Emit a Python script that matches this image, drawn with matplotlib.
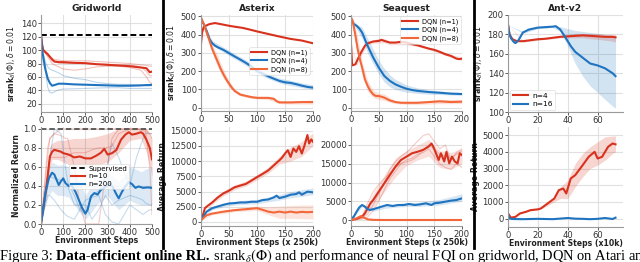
import matplotlib
matplotlib.use('Agg')
import matplotlib.pyplot as plt
from matplotlib.lines import Line2D

RED = '#d8321e'
BLUE = '#1f74c0'
ORANGE = '#f3683a'
GRID = '#e0e0e0'

# ---------------- Gridworld srank ----------------
gw_top_x = [0, 5, 10, 20, 30, 40, 50, 60, 80, 100, 150, 200, 250, 300, 350, 400, 450, 475, 490, 500]
gw_top_red = [122, 108, 100, 97, 94, 90, 86, 83, 82, 82, 81, 80.5, 79, 78, 77, 76, 74, 73, 67, 68]
gw_top_blue = [122, 100, 90, 71, 58, 51, 47, 48, 50, 50, 49, 48.5, 48, 47.5, 47, 47, 47.5, 48, 48, 48.5]
gw_top_red_s1 = [122, 110, 100, 97, 94, 90, 88, 86, 85, 84, 84, 84, 83, 82, 81, 80, 78, 77, 76, 76]
gw_top_red_s2 = [122, 110, 102, 95, 90, 85, 80, 78, 75, 72, 70, 72, 75, 76, 76, 74, 70, 60, 52, 50]
gw_top_red_s3 = [122, 108, 98, 95, 92, 88, 85, 82, 81, 80, 80, 80, 79, 79, 78, 78, 75, 68, 62, 62]
gw_top_blue_s1 = [122, 105, 95, 82, 75, 72, 70, 69, 66, 62, 58, 56, 52, 50, 49, 49, 48, 47, 47, 47]
gw_top_blue_s2 = [122, 95, 80, 70, 45, 37, 36, 38, 41, 42, 42.5, 43, 43.5, 44, 44, 43, 43, 43, 43, 43]
gw_supervised_rank = 123

# ---------------- Gridworld return ----------------
gw_bot_red_x = [0, 25, 40, 50, 60, 75, 90, 100, 125, 150, 175, 200, 225, 250, 270, 285, 300, 320, 340,
                360, 380, 395, 410, 430, 450, 460, 475, 490, 500]
gw_bot_red = [0, 0.40, 0.71, 0.76, 0.78, 0.77, 0.76, 0.745, 0.73, 0.70, 0.71, 0.69, 0.69, 0.72, 0.75,
              0.79, 0.73, 0.745, 0.78, 0.885, 0.94, 0.965, 0.94, 0.95, 0.965, 0.95, 0.885, 0.80, 0.68]
gw_bot_blue_x = [0, 20, 35, 50, 60, 70, 80, 90, 100, 110, 125, 140, 155, 170, 185, 200, 210, 225, 240,
                 255, 270, 285, 300, 310, 325, 340, 350, 365, 380, 395, 410, 425, 440, 460, 480, 500]
gw_bot_blue = [0, 0.33, 0.48, 0.54, 0.52, 0.465, 0.41, 0.45, 0.48, 0.43, 0.40, 0.40, 0.34, 0.255, 0.17,
               0.11, 0.15, 0.29, 0.325, 0.31, 0.36, 0.38, 0.41, 0.43, 0.38, 0.31, 0.27, 0.34, 0.395,
               0.44, 0.42, 0.38, 0.395, 0.38, 0.385, 0.38]
gw_bot_red_band_x = [0, 25, 40, 50, 75, 100, 150, 200, 250, 300, 350, 400, 450, 475, 500]
gw_bot_red_lo = [0, 0.30, 0.60, 0.68, 0.68, 0.65, 0.60, 0.60, 0.62, 0.65, 0.75, 0.88, 0.90, 0.75, 0.50]
gw_bot_red_hi = [0, 0.50, 0.82, 0.85, 0.88, 0.88, 0.90, 0.90, 0.92, 0.95, 1.0, 1.0, 1.0, 1.0, 0.90]
gw_bot_blue_band_x = [0, 20, 35, 50, 75, 100, 125, 150, 175, 200, 225, 250, 275, 300, 325, 350, 375,
                      400, 425, 450, 475, 500]
gw_bot_blue_lo = [0, 0.20, 0.30, 0.35, 0.30, 0.30, 0.28, 0.20, 0.12, 0.05, 0.12, 0.20, 0.25, 0.30, 0.22,
                  0.15, 0.20, 0.25, 0.22, 0.20, 0.20, 0.20]
gw_bot_blue_hi = [0, 0.45, 0.60, 0.65, 0.62, 0.62, 0.60, 0.55, 0.45, 0.30, 0.40, 0.45, 0.48, 0.55, 0.50,
                  0.45, 0.50, 0.60, 0.58, 0.55, 0.58, 0.60]
gw_seed_x = [0, 30, 40, 60, 90, 110, 120, 150, 175, 200, 230, 260, 290, 320, 350, 400, 430, 460, 470, 490, 500]
gw_bot_red_s1 = [0, 0.8, 0.9, 0.95, 1.0, 1.0, 1.0, 1.0, 1.0, 1.0, 1.0, 1.0, 1.0, 1.0, 1.0, 1.0, 1.0, 1.0, 1.0, 0.6, 0.1]
gw_bot_red_s2 = [0, 0.7, 0.9, 0.95, 0.93, 0.9, 0.9, 0.6, 0.2, 0.0, 0.0, 0.0, 0.5, 0.9, 1.0, 1.0, 1.0, 1.0, 1.0, 0.95, 0.9]
gw_bot_red_s3 = [0, 0.55, 0.7, 0.7, 0.7, 0.7, 0.72, 0.75, 0.75, 0.75, 0.78, 0.8, 0.8, 0.82, 0.95, 1.0, 1.0, 0.98, 0.97, 0.95, 0.95]
gw_bot_blue_s1 = [0, 0.5, 0.7, 1.0, 0.95, 0.6, 0.45, 0.3, 0.15, 0.1, 0.3, 0.35, 0.5, 0.85, 0.7, 0.4, 0.7, 0.9, 0.95, 0.95, 0.95]
gw_bot_blue_s2 = [0, 0.3, 0.3, 0.25, 0.15, 0.1, 0.08, 0.05, 0.15, 0.25, 0.28, 0.3, 0.1, 0.02, 0.0, 0.2, 0.15, 0.1, 0.12, 0.15, 0.15]
gw_bot_blue_s3 = [0, 0.4, 0.5, 0.48, 0.46, 0.45, 0.4, 0.2, 0.2, 0.2, 0.05, 0.15, 0.3, 0.2, 0.25, 0.3, 0.28, 0.25, 0.22, 0.2, 0.2]
gw_supervised_ret = 1.0

# ---------------- Asterix srank ----------------
ax_top_red_x = [0, 2, 5, 15, 25, 35, 50, 60, 75, 90, 100, 120, 140, 160, 180, 200]
ax_top_red = [350, 413, 444, 458, 464, 458, 449, 444, 437, 426, 418, 404, 390, 377, 368, 353]
ax_top_blue_x = [0, 5, 10, 15, 20, 25, 30, 40, 50, 60, 70, 80, 90, 100, 110, 120, 130, 140, 150, 160, 170, 180, 190, 200]
ax_top_blue = [482, 458, 422, 377, 353, 340, 331, 317, 299, 281, 264, 246, 226, 201, 187, 172, 159, 147, 139, 136, 129, 121, 114, 110]
ax_top_orange_x = [0, 5, 10, 15, 20, 25, 30, 35, 40, 45, 50, 55, 60, 65, 70, 80, 90, 100, 110, 120, 130, 135, 140, 160, 180, 200]
ax_top_orange = [495, 458, 413, 368, 322, 286, 250, 214, 183, 156, 132, 110, 92, 82, 72, 65, 58, 54, 54, 54, 49, 36, 29, 29, 31, 31]
ax_top_band_x = [0, 20, 40, 60, 80, 100, 120, 140, 160, 180, 200]
ax_top_blue_lo = [478, 342, 305, 268, 232, 188, 160, 135, 122, 110, 100]
ax_top_blue_hi = [486, 368, 332, 296, 262, 216, 186, 162, 150, 136, 126]
ax_top_orange_band_x = [0, 10, 20, 30, 40, 50, 60, 70, 80, 100, 120, 140, 160, 180, 200]
ax_top_orange_lo = [490, 400, 300, 220, 160, 115, 85, 65, 58, 48, 45, 22, 20, 20, 20]
ax_top_orange_hi = [497, 430, 345, 285, 210, 150, 105, 82, 72, 62, 60, 40, 38, 40, 42]

# ---------------- Asterix return ----------------
ax_bot_red_x = [0, 3, 7, 12, 20, 30, 40, 50, 60, 70, 80, 90, 100, 110, 120, 130, 140, 145, 150, 155, 160,
                165, 170, 175, 180, 185, 190, 193, 197, 200]
ax_bot_red = [330, 1000, 2270, 2660, 3210, 4040, 4700, 5150, 5700, 5980, 6250, 6800, 7360, 7900, 8470,
              9300, 10130, 10600, 11240, 11790, 10680, 12070, 11510, 12450, 11240, 12620, 14280, 12900, 13560, 13170]
ax_bot_blue_x = [0, 5, 10, 20, 30, 40, 50, 60, 70, 80, 90, 100, 110, 120, 130, 135, 140, 150, 160, 170, 175, 180, 190, 200]
ax_bot_blue = [280, 1000, 1700, 2270, 2550, 2820, 3040, 3100, 3210, 3210, 3320, 3320, 3600, 3700, 4040,
               4320, 3930, 4150, 4480, 4590, 4870, 4480, 4980, 4870]
ax_bot_orange_x = [0, 5, 10, 20, 40, 60, 80, 100, 110, 120, 130, 140, 150, 160, 170, 180, 190, 200]
ax_bot_orange = [280, 720, 1100, 1380, 1700, 1940, 2100, 2270, 2000, 1700, 1550, 1700, 1550, 1700, 1550, 1660, 1600, 1660]
ax_bot_band_x = [0, 20, 40, 60, 80, 100, 120, 140, 160, 180, 200]
ax_bot_red_lo = [300, 2900, 4300, 5300, 5900, 6900, 8000, 9500, 10000, 10800, 12500]
ax_bot_red_hi = [400, 3500, 5100, 6100, 6700, 7800, 9000, 10800, 12300, 13200, 14600]
ax_bot_blue_lo = [250, 2000, 2500, 2800, 2900, 3000, 3300, 3600, 4000, 4200, 4500]
ax_bot_blue_hi = [320, 2500, 3100, 3400, 3600, 3700, 4100, 4500, 5000, 5300, 5600]
ax_bot_orange_lo = [250, 1200, 1400, 1700, 1800, 1900, 1200, 600, 600, 550, 500]
ax_bot_orange_hi = [320, 1500, 1900, 2200, 2400, 2600, 2500, 2600, 2700, 2800, 2800]

# ---------------- Seaquest srank ----------------
sq_top_red_x = [0, 2, 8, 12, 18, 25, 30, 40, 50, 55, 60, 70, 80, 90, 100, 110, 120, 130, 140, 150, 160,
                170, 180, 190, 195, 200]
sq_top_red = [348, 232, 238, 265, 302, 339, 353, 363, 366, 372, 366, 357, 357, 361, 357, 348, 342, 333,
              324, 317, 306, 293, 284, 269, 266, 269]
sq_top_blue_x = [0, 5, 10, 15, 20, 25, 30, 40, 50, 60, 70, 80, 90, 100, 110, 120, 140, 160, 180, 200]
sq_top_blue = [485, 458, 449, 434, 412, 375, 339, 275, 220, 174, 147, 128, 115, 104, 97, 92, 86, 82, 77, 75]
sq_top_orange_x = [0, 3, 8, 12, 16, 20, 25, 30, 35, 40, 45, 50, 55, 60, 70, 80, 90, 100, 120, 140, 160, 180, 200]
sq_top_orange = [495, 476, 394, 321, 266, 220, 156, 119, 92, 73, 64, 64, 60, 55, 40, 31, 27, 27, 27, 31, 35, 31, 33]
sq_top_band_x = [0, 10, 20, 30, 40, 50, 60, 70, 80, 100, 120, 140, 160, 180, 200]
sq_top_blue_lo = [480, 430, 380, 300, 240, 185, 140, 115, 100, 85, 78, 74, 72, 70, 68]
sq_top_blue_hi = [490, 460, 440, 380, 320, 260, 215, 180, 155, 125, 108, 98, 92, 86, 84]
sq_top_orange_lo = [490, 370, 190, 90, 55, 45, 40, 30, 22, 18, 18, 20, 22, 22, 22]
sq_top_orange_hi = [497, 420, 250, 150, 95, 80, 75, 55, 40, 35, 35, 40, 45, 45, 45]
sq_top_red_lo = [340, 228, 295, 345, 352, 355, 355, 345, 345, 345, 335, 318, 298, 275, 260]
sq_top_red_hi = [352, 245, 315, 362, 370, 380, 380, 365, 362, 362, 350, 332, 315, 292, 278]

# ---------------- Seaquest return ----------------
sq_bot_red_x = [0, 10, 15, 20, 25, 30, 35, 40, 50, 60, 70, 80, 90, 100, 110, 120, 130, 140, 145, 148,
                152, 158, 162, 168, 172, 177, 182, 187, 192, 196, 200]
sq_bot_red = [0, 270, 620, 890, 1780, 3100, 4450, 5330, 7560, 9780, 12000, 14200, 16000, 16900, 17800,
              18200, 18700, 19600, 20400, 19600, 18200, 16000, 17800, 15600, 18200, 15100, 16900, 15600,
              15100, 17800, 17300]
sq_bot_blue_x = [0, 5, 10, 15, 20, 25, 30, 35, 45, 55, 65, 75, 85, 95, 105, 115, 125, 135, 145, 150,
                 160, 170, 180, 190, 200]
sq_bot_blue = [180, 890, 2200, 3380, 4000, 3560, 2840, 2670, 3100, 3560, 4000, 3730, 4000, 4000, 4270,
               4000, 4180, 4450, 4000, 4450, 4620, 4890, 5160, 5330, 5780]
sq_bot_orange_x = [0, 10, 18, 22, 30, 40, 60, 100, 150, 200]
sq_bot_orange = [0, 440, 1070, 710, 180, 30, 0, 0, 0, 0]
sq_bot_band_x = [0, 20, 40, 60, 80, 100, 120, 140, 160, 180, 200]
sq_bot_red_lo = [0, 400, 3500, 7500, 11500, 14500, 16000, 17000, 14000, 13500, 15000]
sq_bot_red_hi = [0, 1500, 7000, 12000, 16500, 18500, 20000, 21500, 18500, 18000, 19000]
sq_bot_blue_lo = [0, 3500, 2300, 3100, 3400, 3600, 3600, 3800, 4000, 4500, 5000]
sq_bot_blue_hi = [300, 4300, 3200, 4000, 4300, 4600, 4700, 5100, 5500, 6200, 7000]
sq_seed_x = [0, 20, 30, 40, 50, 60, 70, 80, 90, 100, 110, 120, 130, 140, 150, 160, 170, 180, 190, 200]
sq_bot_red_s1 = [0, 500, 1500, 4000, 7000, 10000, 13500, 15500, 17000, 18000, 19500, 21000, 22500, 23000,
                 21000, 19000, 20000, 16000, 18000, 19000]
sq_bot_red_s2 = [0, 1000, 4500, 7500, 9500, 11000, 12500, 14000, 15000, 16000, 16500, 17500, 18000, 19000,
                 17000, 15000, 14000, 13500, 15000, 14000]
sq_bot_red_s3 = [0, 200, 800, 2500, 5000, 8000, 11000, 13000, 15000, 15500, 16000, 17000, 18500, 20000,
                 19000, 17500, 17000, 16500, 17500, 18500]

# ---------------- Ant-v2 srank ----------------
ant_top_red_x = [0, 1, 3, 6, 10, 15, 20, 25, 30, 35, 40, 45, 50, 55, 60, 65, 70, 72]
ant_top_red = [190, 180, 175, 173, 173, 174, 175, 175.5, 176.5, 177.5, 178, 178.5, 179, 178.5, 178, 177.5, 177.5, 177]
ant_top_blue_x = [0, 1, 2, 4, 5, 7, 10, 14, 20, 25, 30, 32, 35, 38, 42, 45, 50, 55, 60, 65, 70, 72]
ant_top_blue = [190, 180, 176, 172, 171, 174, 182, 185, 187, 187.5, 188, 188.5, 185, 178, 168, 162, 156,
                150, 148, 145, 140, 137]
ant_top_band_x = [0, 10, 20, 30, 35, 40, 45, 50, 55, 60, 65, 70, 72]
ant_top_blue_lo = [190, 181, 186, 187, 183, 168, 150, 137, 127, 120, 113, 106, 104]
ant_top_blue_hi = [190, 183, 188, 189, 188, 186, 184, 183, 182, 181, 180, 179, 178]
ant_top_red_lo = [190, 172, 174, 175.5, 176.5, 176.5, 176.5, 176.5, 175.5, 175, 174, 173, 172]
ant_top_red_hi = [190, 174, 176, 178, 179, 180, 181, 181, 181, 181, 180, 180, 180]

# ---------------- Ant-v2 return ----------------
ant_bot_red_x = [0, 2, 5, 8, 12, 15, 20, 22, 25, 28, 31, 34, 37, 39, 42, 45, 50, 54, 58, 60, 63, 67, 70, 72]
ant_bot_red = [300, 50, 100, 300, 400, 500, 550, 600, 800, 1000, 1200, 1700, 1800, 1500, 2400, 2600,
               3200, 3700, 4000, 3600, 3700, 4300, 4500, 4450]
ant_bot_blue_x = [0, 1, 3, 10, 20, 30, 40, 45, 50, 55, 60, 65, 70, 72]
ant_bot_blue = [300, 0, -30, -40, -20, -40, 30, -10, -20, -40, -20, 30, -30, 50]
ant_bot_band_x = [0, 10, 20, 25, 30, 35, 40, 45, 50, 55, 60, 65, 70, 72]
ant_bot_red_lo = [300, 380, 520, 700, 950, 1200, 1200, 1900, 2500, 3000, 3200, 3500, 3900, 4000]
ant_bot_red_hi = [300, 420, 600, 900, 1100, 1900, 2300, 3300, 3900, 4300, 4600, 4900, 4950, 4950]

caption_parts = ["Figure 3: ", "Data-efficient online RL.",
                 " srank$_\\delta(\\Phi)$ and performance of neural FQI on gridworld, DQN on Atari and"]

W, H = 640, 262
plt.rcParams['mathtext.fontset'] = 'dejavusans'
fig = plt.figure(figsize=(W / 100, H / 100), dpi=100)
fig.patch.set_facecolor('white')


def make_ax(l, r, t, b):
    ax = fig.add_axes([l / W, 1 - b / H, (r - l) / W, (b - t) / H])
    ax.set_facecolor('white')
    ax.grid(True, color=GRID, lw=0.8)
    ax.set_axisbelow(True)
    for s in ['top', 'right']:
        ax.spines[s].set_visible(False)
    for s in ['left', 'bottom']:
        ax.spines[s].set_color('#9a9a9a')
        ax.spines[s].set_linewidth(0.8)
    ax.tick_params(labelsize=6.1, length=2, width=0.6, pad=1.0, colors='#444444', labelcolor='#333333')
    return ax


SRANK = r'$\mathbf{srank}_\delta(\Phi), \delta=0.01$'
LBL = dict(fontsize=5.6, fontweight='bold', color='#222222')
XLP = -1.0
TTL = dict(fontsize=6.6, fontweight='bold', color='#222222', pad=3)
LW = 1.5

# Gridworld top
a = make_ax(41, 152, 15, 112)
for s in [gw_top_red_s1, gw_top_red_s2, gw_top_red_s3]:
    a.plot(gw_top_x, s, color=RED, lw=0.8, alpha=0.3)
for s in [gw_top_blue_s1, gw_top_blue_s2]:
    a.plot(gw_top_x, s, color=BLUE, lw=0.8, alpha=0.3)
a.axhline(gw_supervised_rank, color='black', ls='--', lw=1.4, dashes=(3, 1.6))
a.plot(gw_top_x, gw_top_red, color=RED, lw=LW)
a.plot(gw_top_x, gw_top_blue, color=BLUE, lw=LW)
a.set_xlim(0, 500); a.set_ylim(8, 152)
a.set_xticks([0, 100, 200, 300, 400, 500]); a.set_yticks([20, 40, 60, 80, 100, 120, 140])
a.set_title('Gridworld', **TTL)
a.set_ylabel(SRANK, fontsize=5.6, color='#222222', labelpad=2)

# Gridworld bottom
a = make_ax(41, 152, 127, 224)
a.fill_between(gw_bot_red_band_x, gw_bot_red_lo, gw_bot_red_hi, color=RED, alpha=0.2, lw=0)
a.fill_between(gw_bot_blue_band_x, gw_bot_blue_lo, gw_bot_blue_hi, color=BLUE, alpha=0.15, lw=0)
for s in [gw_bot_red_s1, gw_bot_red_s2, gw_bot_red_s3]:
    a.plot(gw_seed_x, s, color=RED, lw=0.8, alpha=0.25)
for s in [gw_bot_blue_s1, gw_bot_blue_s2, gw_bot_blue_s3]:
    a.plot(gw_seed_x, s, color=BLUE, lw=0.8, alpha=0.25)
a.axhline(gw_supervised_ret, color='#555555', ls='--', lw=1.3, dashes=(3, 1.6), label='Supervised')
a.plot(gw_bot_red_x, gw_bot_red, color=RED, lw=LW, label='n=10')
a.plot(gw_bot_blue_x, gw_bot_blue, color=BLUE, lw=LW, label='n=200')
h, l = a.get_legend_handles_labels()
h[0] = Line2D([], [], color='black', ls='--', lw=1.3, dashes=(3, 1.6))
leg = a.legend(h, l, loc='center', bbox_to_anchor=(0.52, 0.49), fontsize=5, frameon=True,
               handlelength=2.0, borderpad=0.3, labelspacing=0.25, handletextpad=0.5)
leg.get_frame().set_linewidth(0.4); leg.get_frame().set_alpha(0.8)
a.set_xlim(0, 500); a.set_ylim(0, 1.02)
a.set_xticks([0, 100, 200, 300, 400, 500]); a.set_yticks([0.0, 0.2, 0.4, 0.6, 0.8, 1.0])
a.set_ylabel('Normalized Return', **LBL, labelpad=2)
a.set_xlabel('Environment Steps', **LBL, labelpad=XLP)

# Asterix top
a = make_ax(201, 313, 15, 111)
a.fill_between(ax_top_band_x, ax_top_blue_lo, ax_top_blue_hi, color=BLUE, alpha=0.2, lw=0)
a.fill_between(ax_top_orange_band_x, ax_top_orange_lo, ax_top_orange_hi, color=ORANGE, alpha=0.2, lw=0)
a.plot(ax_top_red_x, ax_top_red, color=RED, lw=LW, label='DQN (n=1)')
a.plot(ax_top_blue_x, ax_top_blue, color=BLUE, lw=LW, label='DQN (n=4)')
a.plot(ax_top_orange_x, ax_top_orange, color=ORANGE, lw=LW, label='DQN (n=8)')
leg = a.legend(loc='center right', bbox_to_anchor=(1.0, 0.52), fontsize=4.8, frameon=True,
               handlelength=2.4, borderpad=0.3, labelspacing=0.3, handletextpad=0.6)
leg.get_frame().set_linewidth(0.4)
a.set_xlim(0, 200); a.set_ylim(-18, 508)
a.set_xticks([0, 50, 100, 150, 200]); a.set_yticks([0, 100, 200, 300, 400, 500])
a.set_title('Asterix', **TTL)
a.set_ylabel(SRANK, fontsize=5.6, color='#222222', labelpad=2)

# Asterix bottom
a = make_ax(201, 313, 127, 226)
a.fill_between(ax_bot_band_x, ax_bot_red_lo, ax_bot_red_hi, color=RED, alpha=0.18, lw=0)
a.fill_between(ax_bot_band_x, ax_bot_blue_lo, ax_bot_blue_hi, color=BLUE, alpha=0.18, lw=0)
a.fill_between(ax_bot_band_x, ax_bot_orange_lo, ax_bot_orange_hi, color=ORANGE, alpha=0.18, lw=0)
a.plot(ax_bot_red_x, ax_bot_red, color=RED, lw=LW)
a.plot(ax_bot_blue_x, ax_bot_blue, color=BLUE, lw=LW)
a.plot(ax_bot_orange_x, ax_bot_orange, color=ORANGE, lw=LW)
a.set_xlim(0, 200); a.set_ylim(-660, 15600)
a.set_xticks([0, 50, 100, 150, 200]); a.set_yticks([0, 2500, 5000, 7500, 10000, 12500, 15000])
a.set_ylabel('Average Return', **LBL, labelpad=2)
a.set_xlabel('Environment Steps (x 250k)', **LBL, labelpad=XLP)

# Seaquest top
a = make_ax(351, 462, 15, 111)
a.fill_between(sq_top_band_x, sq_top_blue_lo, sq_top_blue_hi, color=BLUE, alpha=0.2, lw=0)
a.fill_between(sq_top_band_x, sq_top_orange_lo, sq_top_orange_hi, color=ORANGE, alpha=0.2, lw=0)
a.fill_between(sq_top_band_x, sq_top_red_lo, sq_top_red_hi, color=RED, alpha=0.15, lw=0)
a.plot(sq_top_red_x, sq_top_red, color=RED, lw=LW, label='DQN (n=1)')
a.plot(sq_top_blue_x, sq_top_blue, color=BLUE, lw=LW, label='DQN (n=4)')
a.plot(sq_top_orange_x, sq_top_orange, color=ORANGE, lw=LW, label='DQN (n=8)')
leg = a.legend(loc='upper right', fontsize=4.8, frameon=True, handlelength=2.4, borderpad=0.3,
               labelspacing=0.3, handletextpad=0.6, borderaxespad=0.2)
leg.get_frame().set_linewidth(0.4)
a.set_xlim(0, 200); a.set_ylim(-18, 508)
a.set_xticks([0, 50, 100, 150, 200]); a.set_yticks([0, 100, 200, 300, 400, 500])
a.set_title('Seaquest', **TTL)

# Seaquest bottom
a = make_ax(351, 462, 127, 226)
a.fill_between(sq_bot_band_x, sq_bot_red_lo, sq_bot_red_hi, color=RED, alpha=0.15, lw=0)
a.fill_between(sq_bot_band_x, sq_bot_blue_lo, sq_bot_blue_hi, color=BLUE, alpha=0.18, lw=0)
for s in [sq_bot_red_s1, sq_bot_red_s2, sq_bot_red_s3]:
    a.plot(sq_seed_x, s, color=RED, lw=0.8, alpha=0.25)
a.plot(sq_bot_red_x, sq_bot_red, color=RED, lw=LW)
a.plot(sq_bot_blue_x, sq_bot_blue, color=BLUE, lw=LW)
a.plot(sq_bot_orange_x, sq_bot_orange, color=ORANGE, lw=LW)
a.set_xlim(0, 200); a.set_ylim(-1600, 24800)
a.set_xticks([0, 50, 100, 150, 200]); a.set_yticks([0, 5000, 10000, 15000, 20000])
a.set_xlabel('Environment Steps (x 250k)', **LBL, labelpad=XLP)

# Ant top
a = make_ax(508, 623, 15, 112)
a.fill_between(ant_top_band_x, ant_top_blue_lo, ant_top_blue_hi, color=BLUE, alpha=0.2, lw=0)
a.fill_between(ant_top_band_x, ant_top_red_lo, ant_top_red_hi, color=RED, alpha=0.2, lw=0)
a.plot(ant_top_red_x, ant_top_red, color=RED, lw=LW, label='n=4')
a.plot(ant_top_blue_x, ant_top_blue, color=BLUE, lw=LW, label='n=16')
leg = a.legend(loc='lower left', fontsize=5.4, frameon=True, handlelength=2.0, borderpad=0.35,
               labelspacing=0.3, handletextpad=0.6, borderaxespad=0.25)
leg.get_frame().set_linewidth(0.4)
a.set_xlim(0, 77); a.set_ylim(100, 200)
a.set_xticks([0, 20, 40, 60]); a.set_yticks([100, 120, 140, 160, 180, 200])
a.set_title('Ant-v2', **TTL)
a.set_ylabel(SRANK, fontsize=5.6, color='#222222', labelpad=2)

# Ant bottom
a = make_ax(508, 623, 127, 227)
a.fill_between(ant_bot_band_x, ant_bot_red_lo, ant_bot_red_hi, color=RED, alpha=0.2, lw=0)
a.plot(ant_bot_red_x, ant_bot_red, color=RED, lw=LW)
a.plot(ant_bot_blue_x, ant_bot_blue, color=BLUE, lw=LW)
a.set_xlim(0, 77); a.set_ylim(-510, 5490)
a.set_xticks([0, 20, 40, 60]); a.set_yticks([0, 1000, 2000, 3000, 4000, 5000])
a.set_ylabel('Average Return', **LBL, labelpad=2)
a.set_xlabel('Environment Steps (x10k)', **LBL, labelpad=XLP)

# separators
for xp in [163, 474]:
    fig.add_artist(Line2D([xp / W, xp / W], [1 - 248 / H, 1.0], color='black', lw=2.0,
                          transform=fig.transFigure))

# caption (uses serif math for the inline symbol)
r = fig.canvas.get_renderer()
xcur = 0.0
ybase = 1 - 260 / H
weights = ['normal', 'bold', 'normal']
for txt, wgt in zip(caption_parts, weights):
    t = fig.text(xcur, ybase, txt, fontsize=10.45, family='Liberation Serif', fontweight=wgt,
                 va='baseline', ha='left', color='black', math_fontfamily='stix')
    bb = t.get_window_extent(renderer=r)
    xcur = bb.x1 / W

fig.savefig('out.png', dpi=100, facecolor='white')
